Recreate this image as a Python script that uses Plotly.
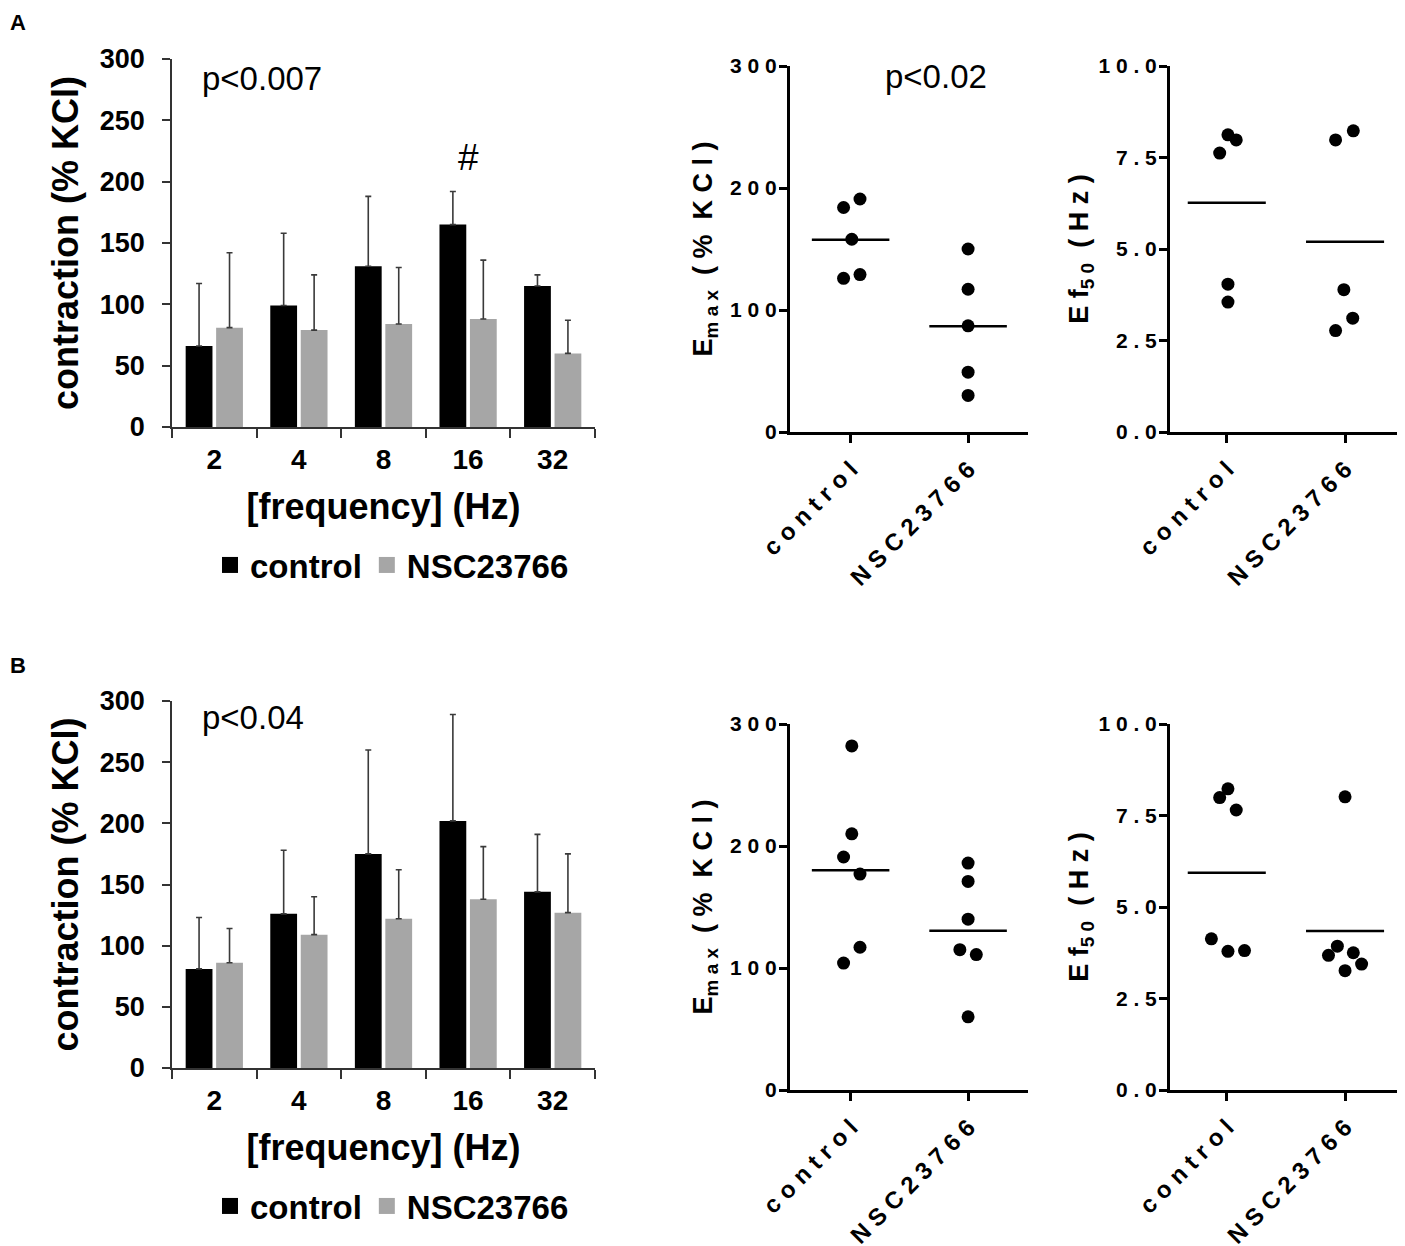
import numpy as np
import plotly.graph_objects as go

FONT = "Liberation Sans"
W, H = 1397, 1238   # page puts the figure 8 px in from the corner
OFF = 8

#Data-------------------------------------------------------------------------------------------------------------------
freq = ["2", "4", "8", "16", "32"]
groups = ["control", "NSC23766"]

# contraction (% KCl): mean and upper SD per frequency
ctrl_a = [66, 99, 131, 165, 115]
ctrl_a_sd = [51, 59, 57, 27, 9]
nsc_a = [81, 79, 84, 88, 60]
nsc_a_sd = [61, 45, 46, 48, 27]

ctrl_b = [81, 126, 175, 202, 144]
ctrl_b_sd = [42, 52, 85, 87, 47]
nsc_b = [86, 109, 122, 138, 127]
nsc_b_sd = [28, 31, 40, 43, 48]

# individual Emax (% KCl) and Ef50 (Hz) values
emax_a_ctrl = [184, 191, 158, 126, 129]
emax_a_nsc = [150, 117, 87, 49, 30]
ef50_a_ctrl = [7.62, 8.12, 7.98, 4.04, 3.55]
ef50_a_nsc = [7.98, 8.23, 3.89, 3.11, 2.77]

emax_b_ctrl = [282, 210, 191, 177, 117, 104]
emax_b_nsc = [186, 171, 140, 115, 111, 60]
ef50_b_ctrl = [7.99, 8.23, 7.65, 4.13, 3.79, 3.81]
ef50_b_nsc = [8.01, 3.93, 3.68, 3.75, 3.44, 3.26]

# sideways shift of overlapping dots (category units)
jit_emax_a = ([-0.06, 0.08, 0.01, -0.06, 0.08], [0, 0, 0, 0, 0])
jit_ef50_a = ([-0.06, 0.01, 0.08, 0.01, 0.01], [-0.08, 0.07, -0.01, 0.065, -0.08])
jit_emax_b = ([0.01, 0.01, -0.06, 0.08, 0.08, -0.06], [0, 0, 0, -0.07, 0.07, 0])
jit_ef50_b = ([-0.06, 0.01, 0.08, -0.13, 0.01, 0.15], [0, -0.065, -0.14, 0.07, 0.14, 0])

COLORS = ["black", "#a6a6a6"]


def spaced(s):
    return " ".join(s)


def px_x(a, b):
    return [(a - OFF) / W, (b - OFF) / W]


def px_y(top, bottom):
    return [1 - (bottom - OFF) / H, 1 - (top - OFF) / H]


fig = go.Figure()

#Bars-------------------------------------------------------------------------------------------------------------------
def bar_panel(ax, ctrl, ctrl_sd, nsc, nsc_sd, legend):
    for name, vals, sd, col in [(groups[0], ctrl, ctrl_sd, COLORS[0]), (groups[1], nsc, nsc_sd, COLORS[1])]:
        fig.add_trace(go.Bar(
            x=freq, y=vals, name=name, marker=dict(color=col, line=dict(width=0)),
            error_y=dict(type="data", symmetric=False, array=sd, arrayminus=[0] * len(sd),
                         color="#3a3a3a", thickness=1.6, width=3),
            xaxis="x" + ax, yaxis="y" + ax, showlegend=False, offsetgroup=name + ax,
        ))
        # legend entry with a bigger square than the bar icon
        fig.add_trace(go.Scatter(
            x=[None], y=[None], mode="markers", name=name,
            marker=dict(symbol="square", color=col, size=16),
            xaxis="x" + ax, yaxis="y" + ax, legend=legend,
        ))


bar_panel("", ctrl_a, ctrl_a_sd, nsc_a, nsc_a_sd, "legend")
bar_panel("4", ctrl_b, ctrl_b_sd, nsc_b, nsc_b_sd, "legend2")

#Dots-------------------------------------------------------------------------------------------------------------------
def dot_panel(ax, ctrl, nsc, jit):
    for i, (vals, dx) in enumerate(zip([ctrl, nsc], jit)):
        fig.add_trace(go.Scatter(
            x=[i + d for d in dx], y=vals, mode="markers",
            marker=dict(color="black", size=13), cliponaxis=False,
            xaxis="x" + ax, yaxis="y" + ax, showlegend=False,
        ))
        m = float(np.mean(vals))
        fig.add_trace(go.Scatter(
            x=[i - 0.33, i + 0.33], y=[m, m], mode="lines",
            line=dict(color="black", width=2.5),
            xaxis="x" + ax, yaxis="y" + ax, showlegend=False,
        ))


dot_panel("2", emax_a_ctrl, emax_a_nsc, jit_emax_a)
dot_panel("3", ef50_a_ctrl, ef50_a_nsc, jit_ef50_a)
dot_panel("5", emax_b_ctrl, emax_b_nsc, jit_emax_b)
dot_panel("6", ef50_b_ctrl, ef50_b_nsc, jit_ef50_b)

#Axes-------------------------------------------------------------------------------------------------------------------
bold = dict(family=FONT, color="black", weight="bold")


def bar_x(dom, anchor):
    return dict(domain=dom, anchor=anchor, type="category", range=[-0.5, 4.5], automargin=False,
                tickson="boundaries", ticks="outside", ticklen=9, tickwidth=1.6, tickcolor="#333",
                showline=True, linecolor="#333", linewidth=1.8, showgrid=False,
                tickfont=dict(size=28, **bold), ticklabelstandoff=6,
                title=dict(text="[frequency] (Hz)", font=dict(size=36, **bold), standoff=20))


def bar_y(dom, anchor):
    return dict(domain=dom, anchor=anchor, range=[0, 300], dtick=50, ticks="outside", ticklen=8,
                automargin=False, tickwidth=1.6, tickcolor="#333", showline=True, linecolor="#333",
                linewidth=1.8, showgrid=False, zeroline=False, tickfont=dict(size=27, **bold),
                ticklabelstandoff=12,
                title=dict(text="contraction (% KCl)", font=dict(size=36, **bold), standoff=10))


def dot_x(dom, anchor, rng):
    return dict(domain=dom, anchor=anchor, range=rng, tickvals=[0, 1], automargin=False,
                ticktext=[spaced(g) for g in groups], tickangle=-45,
                ticks="outside", ticklen=8, tickwidth=2.5, tickcolor="black",
                showline=True, linecolor="black", linewidth=3, showgrid=False, zeroline=False,
                tickfont=dict(size=24, **bold), ticklabelstandoff=3)


def dot_y(dom, anchor, rng, vals, fmt, title, standoff):
    return dict(domain=dom, anchor=anchor, range=rng, tickvals=vals, automargin=False,
                ticktext=[spaced(fmt.format(v)) for v in vals],
                ticks="outside", ticklen=8, tickwidth=2.5, tickcolor="black",
                showline=True, linecolor="black", linewidth=3, showgrid=False, zeroline=False,
                tickfont=dict(size=21, **bold), ticklabelstandoff=-2,
                title=dict(text=title, font=dict(size=27, **bold), standoff=standoff))


emax_title = "E<sub>m a x</sub>  ( %  K C l )"
ef50_title = "E f<sub>5 0</sub>  ( H z )"
emax_ticks = [0, 100, 200, 300]
ef50_ticks = [0, 2.5, 5, 7.5, 10]

fig.update_layout(
    xaxis=bar_x(px_x(172, 595), "y"),
    yaxis=bar_y(px_y(59, 427), "x"),
    xaxis2=dot_x(px_x(790, 1028), "y2", [-0.516, 1.51]),
    yaxis2=dot_y(px_y(66, 432), "x2", [0, 300], emax_ticks, "{:d}", emax_title, 10),
    xaxis3=dot_x(px_x(1170, 1403), "y3", [-0.48, 1.49]),
    yaxis3=dot_y(px_y(66, 432), "x3", [0, 10], ef50_ticks, "{:.1f}", ef50_title, 2),
    xaxis4=bar_x(px_x(172, 595), "y4"),
    yaxis4=bar_y(px_y(701, 1068), "x4"),
    xaxis5=dot_x(px_x(790, 1028), "y5", [-0.516, 1.51]),
    yaxis5=dot_y(px_y(724, 1090), "x5", [0, 300], emax_ticks, "{:d}", emax_title, 10),
    xaxis6=dot_x(px_x(1170, 1403), "y6", [-0.48, 1.49]),
    yaxis6=dot_y(px_y(724, 1090), "x6", [0, 10], ef50_ticks, "{:.1f}", ef50_title, 2),
)

#Legends and notes------------------------------------------------------------------------------------------------------
leg = dict(orientation="h", xanchor="left", yanchor="middle", bgcolor="rgba(0,0,0,0)",
           font=dict(size=33, **bold), itemwidth=30, traceorder="normal")
fig.update_layout(
    legend=dict(x=(210 - OFF) / W, y=1 - (565 - OFF) / H, **leg),
    legend2=dict(x=(210 - OFF) / W, y=1 - (1206 - OFF) / H, **leg),
)

notes = [
    ("p<0.007", "x domain", "y domain", 0.066, 0.946, "left", 0, 33),
    ("#", "x", "y", 3, 220, "center", 0, 37),
    ("p<0.02", "x2 domain", "y2 domain", 0.613, 0.970, "center", 0, 33),
    ("p<0.04", "x4 domain", "y4 domain", 0.066, 0.954, "left", 0, 33),
    ("#", "x4", "y4", 3, 312, "center", 4, 37),
]
for text, xr, yr, x, y, xa, shift, size in notes:
    fig.add_annotation(text=text, xref=xr, yref=yr, x=x, y=y, xanchor=xa, yanchor="middle",
                       xshift=shift, showarrow=False,
                       font=dict(family=FONT, size=size, color="black"))

for text, y in [("A", 22), ("B", 665)]:
    fig.add_annotation(text=text, xref="paper", yref="paper", x=0, y=1 - (y - OFF) / H,
                       xanchor="left", yanchor="middle", showarrow=False,
                       font=dict(size=22, **bold))

fig.update_layout(
    width=W, height=H, autosize=False,
    margin=dict(l=0, r=0, t=0, b=0),
    paper_bgcolor="white", plot_bgcolor="rgba(0,0,0,0)",
    barmode="group", bargap=0.28, bargroupgap=0.12,
    font=dict(family=FONT, color="black"),
)

fig.write_html("out.html")
